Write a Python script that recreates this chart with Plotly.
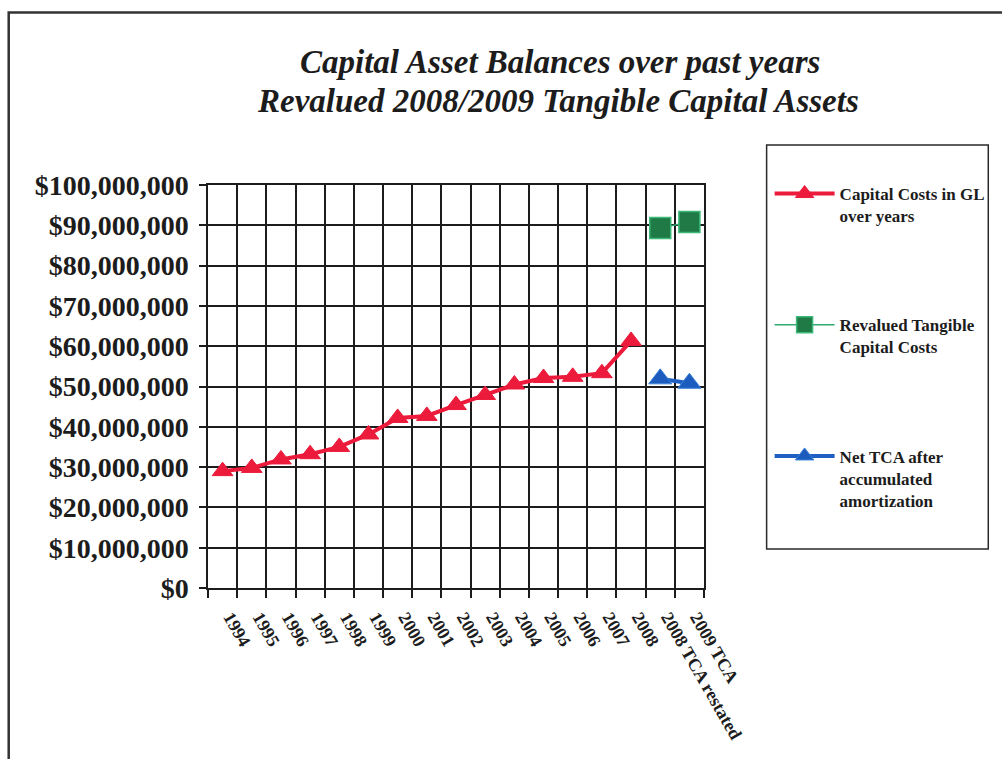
import plotly.graph_objects as go

# ---- data -------------------------------------------------------------
categories = ["1994", "1995", "1996", "1997", "1998", "1999", "2000", "2001",
              "2002", "2003", "2004", "2005", "2006", "2007", "2008",
              "2008 TCA restated", "2009 TCA"]

gl_costs = [29.0e6, 29.8e6, 31.9e6, 33.2e6, 35.0e6, 38.1e6, 42.2e6, 42.7e6,
            45.4e6, 47.9e6, 50.5e6, 52.1e6, 52.4e6, 53.3e6, 61.3e6, None, None]

revalued_tca = [None] * 15 + [89.3e6, 90.8e6]

net_tca = [None] * 15 + [51.9e6, 50.8e6]

y_ticks = list(range(0, 100_000_001, 10_000_000))

# ---- page geometry ----------------------------------------------------
W, H = 1002, 759
ML, MR, MT, MB = 208, 295, 185, 171
PW, PH = W - ML - MR, H - MT - MB


def px(x):
    return (x - ML) / PW


def py(y):
    return (H - MB - y) / PH


SERIF = "Liberation Serif, Times New Roman, serif"
INK = "#1c1c1c"

fig = go.Figure()

fig.add_trace(go.Scatter(
    x=categories, y=gl_costs, mode="lines+markers",
    name="Capital Costs in GL<br>over years", legendgroup="a",
    line=dict(color="#ec1b3b", width=4),
    marker=dict(symbol="triangle-up", size=18, color="#ec1b3b",
                line=dict(color="#ec1b3b", width=1)),
))

fig.add_trace(go.Scatter(
    x=categories, y=revalued_tca, mode="lines+markers",
    name="Revalued Tangible<br>Capital Costs", legendgroup="b",
    line=dict(color="#34a872", width=1.5),
    marker=dict(symbol="square", size=21, color="#1f7a45",
                line=dict(color="#3cb878", width=1.5)),
))

fig.add_trace(go.Scatter(
    x=categories, y=net_tca, mode="lines+markers",
    name="Net TCA after<br>accumulated<br>amortization", legendgroup="c",
    line=dict(color="#1f5fc4", width=4),
    marker=dict(symbol="triangle-up", size=20, color="#1c5cbf",
                line=dict(color="#3a7fd5", width=1)),
))

# ---- titles ----------------------------------------------------------
title_font = dict(family=SERIF, size=33, color=INK, weight="bold", style="italic")
fig.add_annotation(text="Capital Asset Balances over past years",
                   xref="paper", yref="paper", x=px(562), y=py(62),
                   xanchor="center", yanchor="middle", showarrow=False,
                   font=title_font)
fig.add_annotation(text="Revalued 2008/2009 Tangible Capital Assets",
                   xref="paper", yref="paper", x=px(560), y=py(101),
                   xanchor="center", yanchor="middle", showarrow=False,
                   font=title_font)

# ---- outer frame and legend box --------------------------------------
fig.add_shape(type="rect", xref="paper", yref="paper",
              x0=px(7.5), x1=px(1015), y0=py(775), y1=py(12.5),
              line=dict(color="#333333", width=2.5), layer="below")
fig.add_shape(type="rect", xref="paper", yref="paper",
              x0=px(770), x1=px(993), y0=py(549), y1=py(145),
              line=dict(color="#2a2a2a", width=1.5), layer="below")

fig.update_layout(
    width=W, height=H,
    margin=dict(l=ML, r=MR, t=MT, b=MB, pad=0),
    paper_bgcolor="white", plot_bgcolor="white",
    showlegend=True,
    legend=dict(
        x=px(773), y=py(176), xanchor="left", yanchor="top",
        bgcolor="rgba(0,0,0,0)", borderwidth=0,
        font=dict(family=SERIF, size=17, color=INK, weight="bold"),
        valign="top", tracegroupgap=84, itemwidth=60,
    ),
    xaxis=dict(
        type="category", categoryorder="array", categoryarray=categories,
        tickson="boundaries", ticks="outside", ticklen=8, tickwidth=1.5,
        tickcolor=INK, tickangle=60,
        ticklabelstandoff=10, ticklabelshift=8,
        tickfont=dict(family=SERIF, size=18, color=INK, weight="bold"),
        showgrid=True, gridcolor=INK, gridwidth=1.5,
        showline=True, linecolor=INK, linewidth=1.5, mirror=True,
        zeroline=False, range=[-0.5, len(categories) - 0.5],
    ),
    yaxis=dict(
        range=[0, 100_000_000], tickvals=y_ticks, tickformat="$,.0f",
        ticks="outside", ticklen=7, tickwidth=1.5, tickcolor=INK,
        ticklabelstandoff=5,
        tickfont=dict(family=SERIF, size=28, color=INK, weight="bold"),
        showgrid=True, gridcolor=INK, gridwidth=1.5,
        showline=True, linecolor=INK, linewidth=1.5, mirror=True,
        zeroline=False,
    ),
)

fig.write_html("out.html")
